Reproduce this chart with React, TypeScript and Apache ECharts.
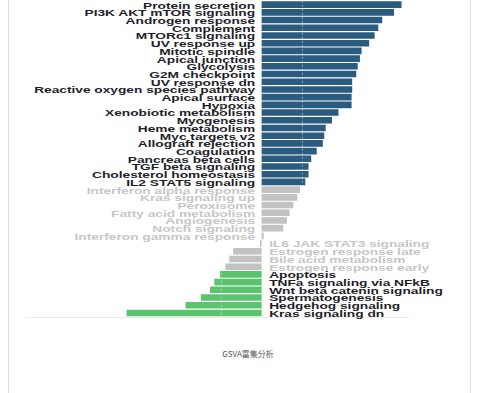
import React, { useEffect, useRef } from "react";
import * as echarts from "echarts";

const pathways: string[] = [
  "Protein secretion",
  "PI3K AKT mTOR signaling",
  "Androgen response",
  "Complement",
  "MTORc1 signaling",
  "UV response up",
  "Mitotic spindle",
  "Apical junction",
  "Glycolysis",
  "G2M checkpoint",
  "UV response dn",
  "Reactive oxygen species pathway",
  "Apical surface",
  "Hypoxia",
  "Xenobiotic metabolism",
  "Myogenesis",
  "Heme metabolism",
  "Myc targets v2",
  "Allograft rejection",
  "Coagulation",
  "Pancreas beta cells",
  "TGF beta signaling",
  "Cholesterol homeostasis",
  "IL2 STAT5 signaling",
  "Interferon alpha response",
  "Kras signaling up",
  "Peroxisome",
  "Fatty acid metabolism",
  "Angiogenesis",
  "Notch signaling",
  "Interferon gamma response",
  "IL6 JAK STAT3 signaling",
  "Estrogen response late",
  "Bile acid metabolism",
  "Estrogen response early",
  "Apoptosis",
  "TNFa signaling via NFkB",
  "Wnt beta catenin signaling",
  "Spermatogenesis",
  "Hedgehog signaling",
  "Kras signaling dn",
];

const tValues: number[] = [
  6.86, 6.49, 5.91, 5.72, 5.54, 5.27, 4.9, 4.82, 4.71, 4.64, 4.44, 4.44, 4.41,
  4.41, 3.77, 3.45, 3.14, 3.07, 3.0, 2.7, 2.43, 2.3, 2.3, 2.14, 1.88, 1.75,
  1.55, 1.37, 1.24, 1.06, 0.1, -0.08, -1.39, -1.59, -1.78, -2.04, -2.32, -2.53,
  -2.98, -3.73, -6.62,
];

const threshold = 2;
const captionText = "GSVA富集分析";

const UP = "#2b5b7e";
const NS = "#c2c2c2";
const DOWN = "#5cc46f";

function barColor(v: number) {
  if (v >= threshold) return UP;
  if (v <= -threshold) return DOWN;
  return NS;
}
function labelColor(v: number) {
  return Math.abs(v) >= threshold ? "#1e1e2a" : "#c6c6c6";
}

export default function App() {
  const ref = useRef<HTMLDivElement>(null);
  useEffect(() => {
    if (!ref.current) return;
    const chart = echarts.init(ref.current, null, { renderer: "svg" });
    chart.setOption({
      animation: false,
      grid: { left: 25, right: 70.5, top: 0.8, height: 316, containLabel: false },
      xAxis: {
        type: "value",
        min: -11.6,
        max: 7.2,
        axisLine: { show: true, lineStyle: { color: "#ececec", width: 1 } },
        axisTick: { show: false },
        axisLabel: { show: false },
        splitLine: { show: false },
      },
      yAxis: {
        type: "category",
        inverse: true,
        data: pathways,
        axisLine: { show: false },
        axisTick: { show: false },
        axisLabel: { show: false },
        splitLine: { show: false },
      },
      series: [
        {
          type: "bar",
          barWidth: 6.6,
          data: tValues.map((v) => ({ value: v, itemStyle: { color: barColor(v) } })),
          markLine: {
            silent: true,
            symbol: "none",
            label: { show: false },
            lineStyle: { color: "rgba(255,255,255,0.45)", type: [2, 2], width: 1 },
            data: [{ xAxis: threshold }, { xAxis: -threshold }],
            z: 5,
          },
        },
        {
          type: "custom",
          data: tValues.map((v, i) => [v, i]),
          encode: { x: 0, y: 1 },
          renderItem: (params: any, api: any) => {
            const v = api.value(0);
            const i = api.value(1);
            const p = api.coord([0, i]);
            const pos = v >= 0;
            return {
              type: "text",
              x: pos ? p[0] - 6.5 : p[0] + 7.5,
              y: p[1] + 0.3,
              scaleX: 1.46,
              style: {
                text: pathways[i],
                align: pos ? "right" : "left",
                verticalAlign: "middle",
                font: 'bold 9.4px "Liberation Sans", Arial, sans-serif',
                fill: labelColor(v),
              },
            };
          },
        },
      ],
      graphic: [
        {
          type: "text",
          x: 248,
          y: 353,
          style: {
            text: captionText,
            align: "center",
            verticalAlign: "middle",
            font: '8px "Noto Sans CJK SC", sans-serif',
            fill: "#555",
          },
        },
      ],
    });
    return () => chart.dispose();
  }, []);
  return (
    <div style={{ position: "fixed", left: 0, top: 0, width: 479, height: 393, background: "#fff" }}>
      <div
        style={{
          position: "absolute",
          left: 8,
          top: 0,
          width: 461,
          height: 393,
          borderLeft: "1px solid #dcdcdc",
          borderRight: "1px solid #dcdcdc",
        }}
      />
      <div ref={ref} style={{ position: "absolute", left: 0, top: 0, width: 479, height: 393 }} />
    </div>
  );
}
